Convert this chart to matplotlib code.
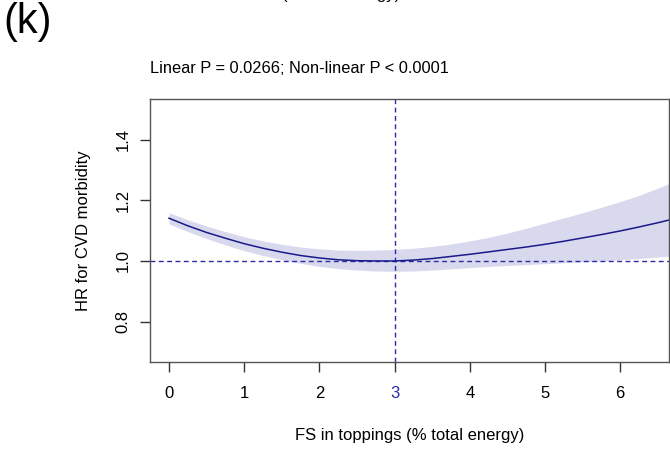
import matplotlib
matplotlib.use("Agg")
import matplotlib.pyplot as plt

plt.rcParams['font.family'] = ['Liberation Sans', 'DejaVu Sans']

# Restricted cubic spline estimate: FS in toppings vs HR for CVD morbidity
fs_pct = [0.0, 0.25, 0.5, 0.75, 1.0, 1.25, 1.5, 1.75, 2.0, 2.25, 2.5, 2.75,
          3.0, 3.25, 3.5, 3.75, 4.0, 4.25, 4.5, 4.75, 5.0, 5.25, 5.5, 5.75,
          6.0, 6.25, 6.5, 6.65]
hr = [1.141, 1.116, 1.094, 1.075, 1.057, 1.042, 1.029, 1.018, 1.010, 1.004,
      1.001, 1.000, 1.000, 1.003, 1.008, 1.015, 1.022, 1.030, 1.038, 1.046,
      1.055, 1.065, 1.076, 1.087, 1.099, 1.112, 1.126, 1.135]
hr_upper = [1.159, 1.136, 1.115, 1.097, 1.080, 1.066, 1.055, 1.046, 1.040,
            1.036, 1.035, 1.036, 1.038, 1.042, 1.048, 1.056, 1.066, 1.078,
            1.092, 1.108, 1.125, 1.142, 1.159, 1.177, 1.196, 1.216, 1.240,
            1.255]
hr_lower = [1.122, 1.097, 1.074, 1.053, 1.034, 1.018, 1.004, 0.992, 0.982,
            0.975, 0.970, 0.967, 0.966, 0.967, 0.970, 0.974, 0.978, 0.982,
            0.985, 0.988, 0.991, 0.994, 0.997, 1.000, 1.004, 1.008, 1.013,
            1.016]

ref_value = 3
x_ticks = [0, 1, 2, 3, 4, 5, 6]
y_ticks = [0.8, 1.0, 1.2, 1.4]
y_tick_labels = ["0.8", "1.0", "1.2", "1.4"]

title_text = "Linear P = 0.0266; Non-linear P < 0.0001"
x_label = "FS in toppings (% total energy)"
y_label = "HR for CVD morbidity"
panel_tag = "(k)"
upper_fragment = "(% total energy)"

W, H = 670, 449
fig = plt.figure(figsize=(W / 100, H / 100), dpi=100)
ax = fig.add_axes([150 / W, 1 - 362 / H, (669 - 150) / W, (362 - 99) / H])

line_col = "#1a1a8a"
band_col = "#d9d9ee"
dash_col = "#2b2ba6"

ax.fill_between(fs_pct, hr_lower, hr_upper, color=band_col, lw=0, zorder=1)
ax.plot(fs_pct, hr, color=line_col, lw=1.1, zorder=3)
ax.axhline(1.0, color=dash_col, lw=1.0, ls=(0, (3.5, 2.5)), zorder=2)
ax.axvline(ref_value, color=dash_col, lw=1.0, ls=(0, (3.5, 2.5)), zorder=2)

ax.set_xlim(-0.253, 6.65)
ax.set_ylim(0.667, 1.534)

ax.set_xticks(x_ticks)
ax.set_xticklabels([str(t) for t in x_ticks], fontsize=12)
ax.set_yticks(y_ticks)
ax.set_yticklabels(y_tick_labels, fontsize=12, rotation=90, va='center')
ax.tick_params(axis='both', direction='out', length=7, width=1.0,
               color='#333333')
ax.tick_params(axis='x', pad=10)
ax.tick_params(axis='y', pad=7)

for lbl, t in zip(ax.get_xticklabels(), x_ticks):
    if t == ref_value:
        lbl.set_color(dash_col)
for tl, t in zip(ax.xaxis.get_major_ticks(), x_ticks):
    if t == ref_value:
        tl.tick1line.set_color(dash_col)

for s in ax.spines.values():
    s.set_color('#555555')
    s.set_linewidth(1.0)

ax.set_xlabel(x_label, fontsize=12, labelpad=20)
ax.set_ylabel(y_label, fontsize=12, labelpad=18)

fig.text(150 / W, 1 - 73 / H, title_text, fontsize=11.8, ha='left',
         va='baseline')
fig.text(3 / W, 1 - 33 / H, panel_tag, fontsize=30, ha='left',
         va='baseline')
# lower edge of the neighbouring panel's axis title
fig.text(400 / W, 1 + 0.5 / H, upper_fragment, fontsize=12, ha='right',
         va='baseline')

fig.savefig("out.png", dpi=100)
